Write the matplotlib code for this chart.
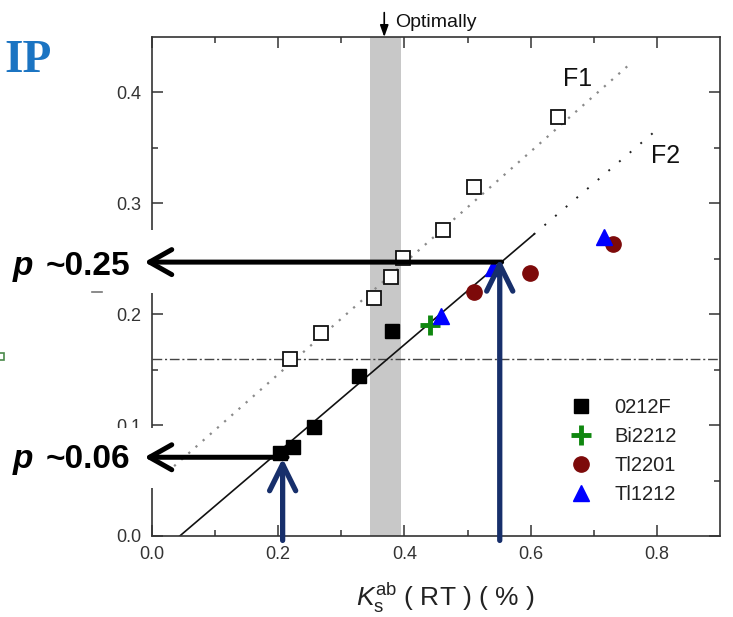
import matplotlib
matplotlib.use("Agg")
import matplotlib.pyplot as plt
from matplotlib.patches import Rectangle
from matplotlib.lines import Line2D

plt.rcParams['font.family'] = ['Liberation Sans', 'DejaVu Sans']
plt.rcParams['mathtext.fontset'] = 'custom'
plt.rcParams['mathtext.rm'] = 'Liberation Sans'
plt.rcParams['mathtext.it'] = 'Liberation Sans:italic'

# ---------------- data ----------------
f1_x = [0.218, 0.268, 0.352, 0.378, 0.397, 0.461, 0.511, 0.644]
f1_y = [0.160, 0.183, 0.215, 0.234, 0.251, 0.276, 0.315, 0.378]
f0212_x = [0.203, 0.223, 0.257, 0.328, 0.380]
f0212_y = [0.075, 0.080, 0.098, 0.144, 0.185]
bi2212_x = [0.440]
bi2212_y = [0.190]
tl2201_x = [0.511, 0.599, 0.730]
tl2201_y = [0.220, 0.237, 0.263]
tl1212_x = [0.458, 0.540, 0.716]
tl1212_y = [0.198, 0.242, 0.270]

fit_x = [0.044, 0.605]
fit_y = [0.000, 0.272]
f2_x = [0.605, 0.797]
f2_y = [0.272, 0.365]
f1line_x = [0.035, 0.760]
f1line_y = [0.063, 0.427]
h_level = 0.160
band = [0.346, 0.394]
optimal_x = 0.368

p_high = 0.247
k_high = 0.551
p_low = 0.071
k_low = 0.207

W, H = 733, 617
fig = plt.figure(figsize=(W / 100, H / 100), dpi=100)
ax = fig.add_axes([152 / W, 81 / H, 568 / W, 499 / H])
ax.set_xlim(0, 0.9)
ax.set_ylim(0, 0.45)

def fx(px):
    return px / W

def fy(py):
    return 1 - py / H

# band
ax.axvspan(band[0], band[1], color='#c8c8c8', lw=0, zorder=0.5)
# dash-dot horizontal
ax.axhline(h_level, color='#444444', lw=1.0, linestyle=(0, (7, 2, 1.5, 2)), zorder=1)
# lines
ax.plot(f1line_x, f1line_y, color='#8a8a8a', lw=1.6, linestyle=(0, (1, 3.3)), zorder=1.2)
ax.plot(f2_x, f2_y, color='#222222', lw=1.4, linestyle=(0, (1, 6.2)), zorder=1.2)
ax.plot(fit_x, fit_y, color='#111111', lw=1.2, zorder=1.3)

# markers
ax.plot(f1_x, f1_y, linestyle='none', marker='s', ms=10, mfc='white', mec='#111111', mew=1.3, zorder=3)
h1, = ax.plot(f0212_x, f0212_y, linestyle='none', marker='s', ms=10, color='black', zorder=3, label='0212F')
h2, = ax.plot(bi2212_x, bi2212_y, linestyle='none', marker='+', ms=15, mew=3.5, color='#0f870f', zorder=3, label='Bi2212')
h3, = ax.plot(tl2201_x, tl2201_y, linestyle='none', marker='o', ms=11, color='#7d0a0a', zorder=3, label='Tl2201')
h4, = ax.plot(tl1212_x, tl1212_y, linestyle='none', marker='^', ms=12, color='#0000ff', zorder=3.1, label='Tl1212')

leg = ax.legend(handles=[h1, h2, h3, h4], loc='upper left',
                bbox_to_anchor=(fx(571), fy(398)), bbox_transform=fig.transFigure,
                frameon=False, fontsize=14.5, handlelength=1.0, handletextpad=1.15,
                labelspacing=0.5, borderpad=0, borderaxespad=0)
for t in leg.get_texts():
    t.set_color('#222222')

# axes styling
for s in ax.spines.values():
    s.set_color('#333333')
    s.set_linewidth(1.2)
ax.set_xticks([0.0, 0.2, 0.4, 0.6, 0.8])
ax.set_xticks([0.1, 0.3, 0.5, 0.7], minor=True)
ax.set_yticks([0.0, 0.1, 0.2, 0.3, 0.4])
ax.set_yticks([0.05, 0.15, 0.25, 0.35], minor=True)
ax.tick_params(which='both', direction='in', top=True, right=True, colors='#333333', width=1.1)
ax.tick_params(which='major', length=8, labelsize=13)
ax.tick_params(which='minor', length=4)
ax.tick_params(axis='y', pad=8)
ax.tick_params(axis='x', pad=7)
ax.xaxis.set_major_formatter(matplotlib.ticker.FormatStrFormatter('%.1f'))
ax.yaxis.set_major_formatter(matplotlib.ticker.FormatStrFormatter('%.1f'))

ax.set_xlabel(r"$K_{\rm s}^{\rm ab}$ ( RT ) ( % )", fontsize=19, color='#222222', labelpad=8)
ax.xaxis.set_label_coords((445 - 152) / 568, -0.09)

# F1 / F2 labels
ax.text(0.675, 0.412, 'F1', fontsize=18, color='#111111', ha='center', va='center')
ax.text(0.813, 0.343, 'F2', fontsize=18, color='#111111', ha='center', va='center')

# Optimally
ax.annotate('', xy=(optimal_x, 0.45), xytext=(optimal_x, 0.472),
            arrowprops=dict(arrowstyle='-|>,head_length=0.5,head_width=0.18', lw=1.2,
                            color='black', shrinkA=0, shrinkB=0, mutation_scale=14),
            annotation_clip=False)
fig.text(fx(395), fy(27), 'Optimally', fontsize=14, color='#111111', ha='left', va='baseline')

# white boxes covering the spine (pasted overlays)
ax.add_patch(Rectangle((fx(140), fy(293)), fx(22), (293 - 230) / H, transform=fig.transFigure,
                       facecolor='white', edgecolor='none', zorder=3.5, clip_on=False))
ax.add_patch(Rectangle((fx(95), fy(488)), fx(66), (488 - 428) / H, transform=fig.transFigure,
                       facecolor='white', edgecolor='none', zorder=3.5, clip_on=False))

# black arrows
blk = dict(arrowstyle='->,head_length=0.8,head_width=0.45', lw=3.6, color='black',
           shrinkA=0, shrinkB=0, mutation_scale=20)
ax.annotate('', xy=(-0.012, p_high), xytext=(k_high + 0.003, p_high), arrowprops=blk,
            annotation_clip=False, zorder=4)
ax.annotate('', xy=(-0.012, p_low), xytext=(k_low + 0.007, p_low), arrowprops=blk,
            annotation_clip=False, zorder=4)

# blue arrows
blu = dict(arrowstyle='->,head_length=0.95,head_width=0.47', lw=3.8, color='#172f6b',
           shrinkA=0, shrinkB=0, mutation_scale=20)
ax.annotate('', xy=(k_high, p_high + 0.003), xytext=(k_high, -0.004), arrowprops=blu,
            annotation_clip=False, zorder=4.2)
ax.annotate('', xy=(k_low, p_low - 0.001), xytext=(k_low, -0.004), arrowprops=blu,
            annotation_clip=False, zorder=4.2)

# p labels
for base, val in [(275, '~0.25'), (468, '~0.06')]:
    fig.text(fx(13), fy(base), 'p', fontsize=24, fontweight='bold', fontstyle='italic',
             color='black', ha='left', va='baseline')
    fig.text(fx(46), fy(base), val, fontsize=24, fontweight='bold',
             color='black', ha='left', va='baseline')

# IP
fig.text(fx(4), fy(72), 'IP', fontsize=34, fontweight='bold', family='Liberation Serif',
         color='#1b74c2', ha='left', va='baseline')

# small artifacts
fig.add_artist(Line2D([fx(92), fx(102)], [fy(292), fy(292)], color='#777777', lw=1.2))
fig.add_artist(Rectangle((fx(-4), fy(360)), fx(8), 7 / H, transform=fig.transFigure,
                         facecolor='none', edgecolor='#4a8a4a', lw=1.2))

fig.savefig('out.png', dpi=100)
